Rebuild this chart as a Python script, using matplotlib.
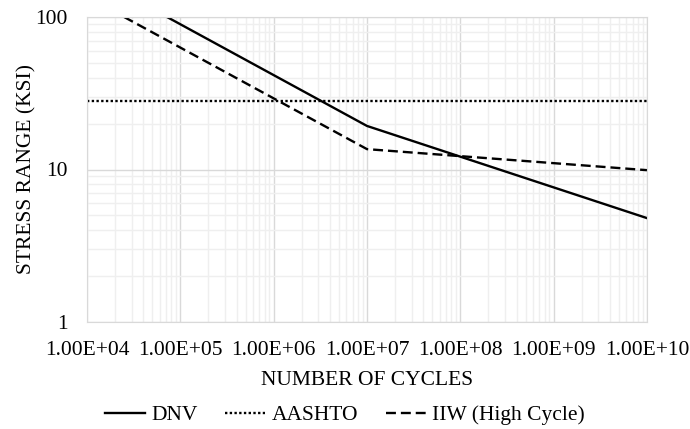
import math
import matplotlib.pyplot as plt
from matplotlib.ticker import FuncFormatter, LogLocator, FixedLocator

# S-N curves
dnv_cycles = [7.2e4, 1e7, 1e10]
dnv_stress = [100, 19.3, 4.8]
aashto_cycles = [1e4, 1e10]
aashto_stress = [28, 28]
iiw_cycles = [2.5e4, 1e7, 1e10]
iiw_stress = [100, 13.6, 9.9]
x_ticks = [1e4, 1e5, 1e6, 1e7, 1e8, 1e9, 1e10]
y_ticks = [1, 10, 100]

plt.rcParams['font.family'] = ['Liberation Serif', 'DejaVu Serif']
fs = 15.5

fig = plt.figure(figsize=(6.9, 4.29), dpi=100)
ax = fig.add_axes([87 / 690, 1 - 322 / 429, 560 / 690, 305 / 429])

ax.plot(dnv_cycles, dnv_stress, color='black', lw=1.7, ls='-', label='DNV')
ax.plot(aashto_cycles, aashto_stress, color='black', lw=1.7, ls=(0, (1, 1)), label='AASHTO')
ax.plot(iiw_cycles, iiw_stress, color='black', lw=1.7, ls=(0, (4.2, 2.1)), label='IIW (High Cycle)')

ax.set_xscale('log')
ax.set_yscale('log')
ax.set_xlim(1e4, 1e10)
ax.set_ylim(1, 100)

ax.xaxis.set_major_locator(FixedLocator(x_ticks))
ax.xaxis.set_minor_locator(LogLocator(base=10, subs=range(2, 10), numticks=20))
ax.yaxis.set_major_locator(FixedLocator(y_ticks))
ax.yaxis.set_minor_locator(LogLocator(base=10, subs=range(2, 10), numticks=20))
ax.xaxis.set_major_formatter(FuncFormatter(lambda v, p: '1.00E+%02d' % round(math.log10(v))))
ax.yaxis.set_major_formatter(FuncFormatter(lambda v, p: '%g' % v))
ax.xaxis.set_minor_formatter(FuncFormatter(lambda v, p: ''))
ax.yaxis.set_minor_formatter(FuncFormatter(lambda v, p: ''))

ax.grid(True, which='major', color='#d9d9d9', lw=1.0)
ax.grid(True, which='minor', color='#efefef', lw=1.0)
ax.set_axisbelow(True)
ax.tick_params(which='both', length=0, labelsize=fs, colors='black')
ax.tick_params(axis='x', pad=13.5)
ax.tick_params(axis='y', pad=14)
for s in ax.spines.values():
    s.set_color('#d9d9d9')

ax.set_xlabel('NUMBER OF CYCLES', fontsize=fs, labelpad=8)
ax.set_ylabel('STRESS RANGE (KSI)', fontsize=fs, labelpad=-1)

fig.legend(loc='center', bbox_to_anchor=(0.5, 1 - 415 / 429), ncol=3, frameon=False,
           fontsize=fs, handlelength=1.85, columnspacing=1.3, handletextpad=0.3,
           borderpad=0.2)

fig.savefig('out.png', dpi=100)
